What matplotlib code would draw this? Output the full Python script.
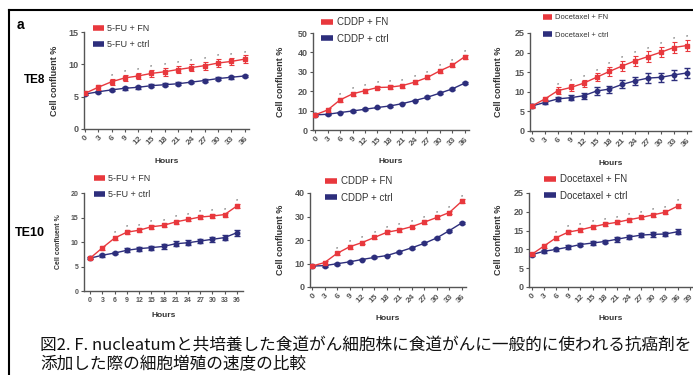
import matplotlib
matplotlib.use('Agg')
import matplotlib.pyplot as plt
from matplotlib.lines import Line2D

plt.rcParams['font.family'] = ['Liberation Sans', 'Noto Sans CJK JP', 'DejaVu Sans']

W, H = 693, 375

# Datos
hours = [0, 3, 6, 9, 12, 15, 18, 21, 24, 27, 30, 33, 36]

te8_fu_fn = [5.5, 6.45, 7.3, 7.9, 8.2, 8.6, 8.85, 9.2, 9.5, 9.8, 10.2, 10.45, 10.8]
te8_fu_fn_err = [0.3, 0.4, 0.5, 0.5, 0.5, 0.5, 0.6, 0.6, 0.6, 0.6, 0.6, 0.6, 0.6]
te8_fu_ctrl = [5.4, 5.75, 6.05, 6.3, 6.45, 6.7, 6.85, 7.0, 7.25, 7.5, 7.8, 8.0, 8.2]
te8_fu_ctrl_err = [0.2] * 13

te8_cddp_fn = [7.8, 10.3, 15.5, 18.6, 20.3, 21.9, 22.1, 22.9, 24.7, 27.1, 30.5, 33.4, 37.8]
te8_cddp_fn_err = [0.6, 0.8, 1.0, 1.0, 1.0, 1.0, 1.0, 1.0, 1.0, 1.0, 1.0, 1.0, 1.0]
te8_cddp_ctrl = [7.8, 8.1, 9.0, 9.8, 10.7, 11.6, 12.4, 13.6, 15.2, 16.9, 19.0, 21.2, 24.2]
te8_cddp_ctrl_err = [0.4] * 13

te8_doc_fn = [6.4, 8.2, 10.3, 11.1, 12.2, 13.7, 15.2, 16.6, 17.9, 19.0, 20.1, 21.3, 21.8]
te8_doc_fn_err = [0.5, 0.6, 0.8, 0.9, 0.9, 1.0, 1.1, 1.2, 1.2, 1.3, 1.3, 1.4, 1.5]
te8_doc_ctrl = [6.4, 7.3, 8.2, 8.5, 9.0, 10.2, 10.7, 11.9, 12.8, 13.5, 13.7, 14.3, 14.8]
te8_doc_ctrl_err = [0.4, 0.5, 0.6, 0.7, 0.8, 0.9, 0.9, 1.0, 1.1, 1.2, 1.2, 1.3, 1.3]

te10_fu_fn = [6.7, 8.8, 10.8, 12.0, 12.4, 13.1, 13.4, 14.1, 14.6, 15.1, 15.3, 15.6, 17.35]
te10_fu_fn_err = [0.2, 0.4, 0.4, 0.4, 0.4, 0.4, 0.4, 0.4, 0.4, 0.4, 0.4, 0.4, 0.5]
te10_fu_ctrl = [6.7, 7.3, 7.75, 8.3, 8.65, 8.85, 9.1, 9.65, 9.85, 10.2, 10.55, 10.9, 11.9]
te10_fu_ctrl_err = [0.2, 0.3, 0.3, 0.4, 0.4, 0.4, 0.5, 0.5, 0.5, 0.5, 0.5, 0.5, 0.6]

te10_cddp_fn = [8.9, 10.4, 14.3, 17.1, 18.9, 21.1, 23.3, 24.3, 25.7, 27.6, 29.6, 31.7, 36.5]
te10_cddp_fn_err = [0.5, 0.6, 0.8, 0.8, 0.8, 0.8, 0.8, 0.8, 0.8, 0.8, 0.8, 0.8, 0.8]
te10_cddp_ctrl = [8.9, 9.1, 9.9, 10.7, 11.7, 12.6, 13.4, 15.0, 16.7, 18.6, 20.9, 24.0, 27.3]
te10_cddp_ctrl_err = [0.4] * 13

te10_doc_fn = [8.7, 10.9, 13.1, 14.6, 15.2, 16.0, 16.7, 17.2, 17.9, 18.5, 19.2, 19.9, 21.5]
te10_doc_fn_err = [0.3, 0.5, 0.5, 0.5, 0.5, 0.5, 0.5, 0.5, 0.5, 0.5, 0.5, 0.5, 0.6]
te10_doc_ctrl = [8.6, 9.5, 10.0, 10.6, 11.3, 11.7, 12.1, 12.7, 13.3, 13.8, 14.0, 14.1, 14.7]
te10_doc_ctrl_err = [0.4, 0.4, 0.4, 0.5, 0.5, 0.5, 0.5, 0.6, 0.6, 0.6, 0.6, 0.6, 0.6]

RED = '#e8383d'
BLUE = '#2d2e7c'
AXC = '#555555'

fig = plt.figure(figsize=(W / 100, H / 100), dpi=100)


def px_axes(x0, x1, ytop, ybot):
    return fig.add_axes([x0 / W, 1 - ybot / H, (x1 - x0) / W, (ybot - ytop) / H])


# (ejes en píxeles, límites, ticks, datos, leyenda)
panels = [
    dict(box=(84, 249, 32, 129), xlim=(-0.2, 37), ylim=(0, 15), yt=[0, 5, 10, 15],
         fn=te8_fu_fn, fne=te8_fu_fn_err, ct=te8_fu_ctrl, cte=te8_fu_ctrl_err,
         labels=['5-FU + FN', '5-FU + ctrl'], leg=(93, 24), lfs=6.5, lsp=0.75,
         ylab_x=59, xlab_y=158, rot=True, xt=hours, tfs=6, yfs=6.5),
    dict(box=(313, 469, 33, 130), xlim=(-0.5, 37), ylim=(0, 50), yt=[0, 10, 20, 30, 40, 50],
         fn=te8_cddp_fn, fne=te8_cddp_fn_err, ct=te8_cddp_ctrl, cte=te8_cddp_ctrl_err,
         labels=['CDDP + FN', 'CDDP + ctrl'], leg=(321, 17), lfs=7, lsp=0.7,
         ylab_x=285, xlab_y=158, rot=True, xt=hours, tfs=6, yfs=6.5),
    dict(box=(530, 691, 33, 131), xlim=(-0.5, 37), ylim=(0, 25), yt=[0, 5, 10, 15, 20, 25],
         fn=te8_doc_fn, fne=te8_doc_fn_err, ct=te8_doc_ctrl, cte=te8_doc_ctrl_err,
         labels=['Docetaxel + FN', 'Docetaxel + ctrl'], leg=(543, 14), lfs=5.5, lsp=1.3,
         ylab_x=503, xlab_y=160, rot=True, xt=hours, tfs=6, yfs=6.5),
    dict(box=(84, 243, 193, 291), xlim=(-1.5, 37.5), ylim=(0, 20), yt=[0, 5, 10, 15, 20],
         fn=te10_fu_fn, fne=te10_fu_fn_err, ct=te10_fu_ctrl, cte=te10_fu_ctrl_err,
         labels=['5-FU + FN', '5-FU + ctrl'], leg=(94, 174), lfs=6.5, lsp=0.75,
         ylab_x=62, xlab_y=312, rot=False, xt=hours, tfs=5, yfs=5),
    dict(box=(310, 466, 193, 287), xlim=(-0.5, 37), ylim=(0, 40), yt=[0, 10, 20, 30, 40],
         fn=te10_cddp_fn, fne=te10_cddp_fn_err, ct=te10_cddp_ctrl, cte=te10_cddp_ctrl_err,
         labels=['CDDP + FN', 'CDDP + ctrl'], leg=(325, 176), lfs=7, lsp=0.7,
         ylab_x=285, xlab_y=315, rot=True, xt=hours, tfs=6, yfs=6.5),
    dict(box=(529, 693, 193, 287), xlim=(-0.7, 39.8), ylim=(0, 25), yt=[0, 5, 10, 15, 20, 25],
         fn=te10_doc_fn, fne=te10_doc_fn_err, ct=te10_doc_ctrl, cte=te10_doc_ctrl_err,
         labels=['Docetaxel + FN', 'Docetaxel + ctrl'], leg=(544, 174), lfs=7, lsp=0.7,
         ylab_x=503, xlab_y=315, rot=True, xt=hours + [39], tfs=6, yfs=6.5),
]

for p in panels:
    x0, x1, yt_, yb = p['box']
    ax = px_axes(x0, x1, yt_, yb)
    hpx = yb - yt_

    ax.errorbar(hours, p['ct'], yerr=p['cte'], color=BLUE, marker='o', ms=3.2,
                lw=1.0, elinewidth=1.0, capsize=2, capthick=1.0, zorder=3)
    ax.errorbar(hours, p['fn'], yerr=p['fne'], color=RED, marker='s', ms=3.2,
                lw=1.0, elinewidth=0.8, capsize=1.8, capthick=0.8, zorder=4)
    # asteriscos de significancia
    for h, v, e in zip(hours[2:], p['fn'][2:], p['fne'][2:]):
        ax.annotate('*', (h, v + e), xytext=(0, 0.5), textcoords='offset points',
                    ha='center', va='bottom', fontsize=4, color='#444444')

    ax.set_xlim(*p['xlim'])
    ax.set_ylim(*p['ylim'])
    ax.set_yticks(p['yt'])
    ax.set_xticks(p['xt'])
    if p['rot']:
        ax.set_xticklabels([str(t) for t in p['xt']], rotation=45, ha='right',
                           rotation_mode='anchor', fontsize=p['tfs'], fontweight='bold',
                           color='#333333')
    else:
        ax.set_xticklabels([str(t) for t in p['xt']], fontsize=p['tfs'],
                           fontweight='bold', color='#333333')
    for lab in ax.get_yticklabels():
        lab.set_fontsize(p['yfs'])
        lab.set_fontweight('bold')
        lab.set_color('#333333')

    for s in ['top', 'right']:
        ax.spines[s].set_visible(False)
    for s in ['left', 'bottom']:
        ax.spines[s].set_color(AXC)
        ax.spines[s].set_linewidth(1.0)
    ax.tick_params(axis='both', colors=AXC, length=2.5, width=0.8, pad=1.5)
    ax.patch.set_alpha(0)

    ax.set_xlabel('Hours', fontsize=6, fontweight='bold', color='#333333')
    ax.xaxis.set_label_coords(0.5, -(p['xlab_y'] - yb) / hpx)
    ax.set_ylabel('Cell confluent %', fontsize=p['yfs'], fontweight='bold', color='#333333')
    ax.yaxis.set_label_coords(-(x0 - p['ylab_x']) / (x1 - x0), 0.5)

    handles = [Line2D([], [], color=RED, lw=4, solid_capstyle='butt'),
               Line2D([], [], color=BLUE, lw=4, solid_capstyle='butt')]
    lx, ly = p['leg']
    fig.legend(handles, p['labels'], loc='upper left',
               bbox_to_anchor=(lx / W, 1 - ly / H), bbox_transform=fig.transFigure,
               frameon=False, fontsize=p['lfs'], handlelength=1.2, handletextpad=0.4,
               borderpad=0, borderaxespad=0, labelspacing=p['lsp'],
               labelcolor='#333333')

# etiquetas de fila
fig.text(17 / W, 1 - 25 / H, 'a', fontsize=10, fontweight='bold', va='center')
fig.text(24 / W, 1 - 80 / H, 'TE8', fontsize=8.5, fontweight='bold', va='center')
fig.text(15 / W, 1 - 233 / H, 'TE10', fontsize=9, fontweight='bold', va='center')

# marco
fig.add_artist(Line2D([9 / W, 9 / W], [0, 1 - 10 / H], color='black', lw=1.5,
                      transform=fig.transFigure))
fig.add_artist(Line2D([9 / W, 1], [1 - 10 / H, 1 - 10 / H], color='black', lw=1.5,
                      transform=fig.transFigure))

# pie de figura
cap_font = ['Noto Sans CJK JP', 'DejaVu Sans']
fig.text(40 / W, 1 - 345 / H,
         '図2. F. nucleatumと共培養した食道がん細胞株に食道がんに一般的に使われる抗癌剤を',
         fontsize=12, va='center', family=cap_font, color='#111111')
fig.text(40 / W, 1 - 365 / H, '添加した際の細胞増殖の速度の比較',
         fontsize=12, va='center', family=cap_font, color='#111111')

fig.savefig('out.png', dpi=100)
